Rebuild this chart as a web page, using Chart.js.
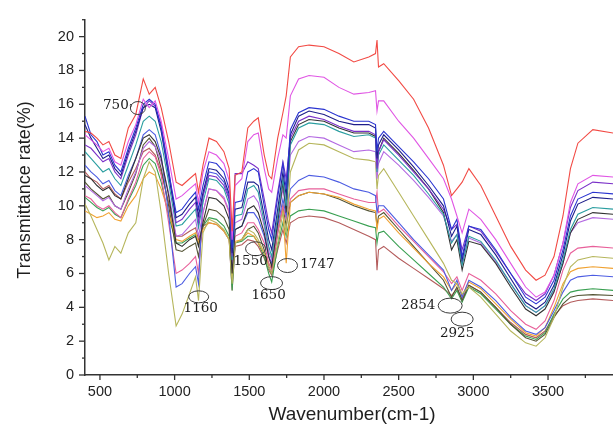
<!DOCTYPE html>
<html><head><meta charset="utf-8">
<script src="https://cdn.jsdelivr.net/npm/chart.js@4.4.0/dist/chart.umd.min.js"></script>
<style>html,body{margin:0;padding:0;background:#fff}#wrap{width:613px;height:425px;position:relative}</style>
</head><body><div id="wrap"><canvas id="c" width="613" height="425"></canvas></div>
<script>
const wavenumbers = [400,440,480,520,560,600,640,690,740,790,830,870,910,960,1010,1050,1100,1140,1160,1190,1230,1280,1330,1365,1385,1405,1450,1490,1530,1560,1600,1630,1650,1690,1725,1747,1775,1830,1900,2000,2100,2200,2300,2345,2355,2365,2400,2500,2600,2700,2800,2854,2890,2925,2970,3050,3150,3250,3350,3420,3480,3540,3600,3650,3700,3800,3940];

const red = [14.4,14.3,14.0,13.6,13.8,13.0,12.8,14.6,15.4,17.5,
16.6,17.0,15.8,13.8,11.4,11.2,11.6,11.9,10.8,12.4,
14.0,13.8,13.2,12.2,8.5,11.8,12.0,14.6,15.0,15.2,
13.0,11.8,11.6,14.0,15.5,16.5,18.8,19.4,19.5,19.4,
19.0,18.5,18.8,19.0,19.8,18.2,18.4,17.4,16.3,14.6,
12.4,10.6,11.0,11.4,12.2,11.2,9.4,7.6,6.2,5.6,
5.9,7.0,9.4,12.2,13.7,14.5,14.3];
const magenta = [14.2,13.9,13.6,13.2,13.4,12.6,12.4,13.8,14.8,16.3,
15.8,16.2,15.0,12.8,10.4,10.6,11.0,11.3,10.2,12.0,
13.2,13.0,12.5,11.5,8.0,11.2,11.6,13.8,14.2,14.3,
12.2,11.0,10.8,12.8,14.2,14.0,16.5,17.5,17.7,17.6,
17.0,16.6,16.7,16.8,15.6,16.2,16.2,15.0,14.0,12.8,
11.6,10.4,9.4,8.4,9.8,9.2,8.0,6.6,5.2,4.6,
4.9,5.9,7.8,10.2,11.3,11.8,11.7];
const blue = [15.3,14.2,13.8,13.0,13.2,12.4,12.0,13.4,14.6,16.0,
16.3,16.0,14.6,12.0,9.6,9.8,10.4,10.8,9.8,11.2,
12.6,12.5,12.0,11.0,7.5,10.2,10.3,12.0,12.2,12.0,
10.0,8.6,8.0,10.5,12.5,11.0,14.5,15.5,15.8,15.7,
15.3,15.0,15.0,14.8,13.2,14.0,14.4,13.5,12.6,11.6,
10.4,8.6,9.2,7.0,8.8,8.6,7.4,6.0,4.6,4.2,
4.6,5.6,7.4,9.4,10.4,10.8,10.7];
const navy = [14.8,14.0,13.4,12.8,13.0,12.2,11.8,13.2,14.4,15.8,
16.0,15.8,14.4,11.8,9.3,9.5,10.1,10.5,9.4,10.8,
12.2,12.1,11.6,10.7,7.2,9.8,9.9,11.4,11.4,11.2,
9.4,8.0,7.4,9.8,12.0,10.6,14.2,15.3,15.6,15.4,
15.0,14.8,14.8,14.6,12.8,13.6,14.2,13.3,12.3,11.2,
10.0,8.2,8.8,6.8,8.6,8.3,7.1,5.7,4.3,3.9,
4.3,5.3,7.1,9.1,10.1,10.5,10.4];
const violet = [13.6,13.4,13.0,12.6,12.8,12.0,11.6,13.0,14.2,15.8,
16.2,15.9,14.8,12.2,9.0,9.2,9.8,10.2,9.0,10.6,
11.8,11.7,11.2,10.4,7.0,11.9,11.9,12.6,12.4,12.2,
10.4,9.0,8.4,10.8,12.6,11.6,14.0,15.0,15.3,15.1,
14.7,14.4,14.4,14.2,12.2,13.2,13.9,13.0,12.0,11.0,
9.8,8.6,8.9,7.4,8.8,8.5,7.3,6.0,4.8,4.4,
4.8,5.9,7.8,9.9,10.9,11.4,11.3];
const teal = [13.2,12.8,12.4,12.0,12.2,11.6,11.2,12.4,13.6,15.0,
15.3,15.0,13.8,11.4,8.8,8.9,9.4,9.8,8.7,10.2,
11.6,11.5,11.0,10.1,6.8,9.4,9.5,11.0,11.2,10.8,
9.0,7.6,7.0,9.4,11.6,10.0,13.6,14.6,14.9,14.8,
14.4,14.1,14.2,14.0,12.0,13.0,13.6,12.7,11.8,10.7,
9.5,7.8,8.3,6.5,8.2,7.9,6.8,5.4,4.1,3.7,
4.1,5.1,6.8,8.6,9.5,9.9,9.8];
const black = [11.8,11.6,11.2,10.9,11.1,10.6,10.4,11.6,12.8,14.0,
14.2,13.8,12.8,10.6,7.8,7.6,8.0,8.2,7.6,9.0,
10.5,10.4,10.0,9.2,6.0,8.6,8.8,9.8,10.0,9.6,
8.4,7.0,6.4,9.0,11.4,9.6,13.8,14.8,15.1,15.0,
14.6,14.3,14.3,14.1,12.4,13.2,14.0,13.1,12.1,11.0,
9.6,7.4,8.0,6.2,7.9,7.7,6.6,5.2,3.9,3.5,
3.9,4.9,6.6,8.4,9.2,9.6,9.5];
const lightPurple = [11.2,10.9,10.6,10.3,10.5,10.0,9.8,11.0,12.0,13.4,
13.8,13.5,12.6,10.8,8.2,8.3,8.8,9.2,8.2,9.6,
11.0,10.9,10.5,9.7,6.4,9.0,9.2,10.4,10.6,10.2,
8.8,7.3,6.8,9.2,11.0,9.8,13.0,13.8,14.1,14.0,
13.6,13.2,13.3,13.2,11.6,12.5,13.2,12.4,11.5,10.5,
9.4,7.9,8.3,6.6,8.1,7.8,6.7,5.4,4.1,3.7,
4.1,5.0,6.6,8.4,9.0,9.3,9.2];
const olive = [10.1,9.4,8.6,7.8,6.8,7.6,7.2,8.4,9.0,11.6,
12.6,12.0,9.6,6.0,2.9,3.6,4.8,5.8,4.4,8.4,
9.2,9.0,8.6,8.0,5.4,7.8,8.0,8.6,8.4,8.0,
7.2,6.4,6.0,7.8,9.6,8.4,12.0,13.3,13.7,13.6,
13.2,12.8,12.7,12.6,11.0,11.8,12.2,10.8,9.4,8.0,
6.6,5.6,5.4,4.8,5.2,4.6,3.6,2.6,1.9,1.7,
2.2,3.4,5.2,6.4,6.8,7.0,6.9];
const blue2 = [12.4,12.0,11.7,11.3,11.5,10.9,10.6,11.8,12.8,14.2,
14.5,14.2,13.0,9.5,5.2,5.4,6.0,6.4,5.4,10.6,
12.0,11.9,11.4,10.5,6.6,8.6,8.8,9.6,9.6,9.2,
8.2,7.0,6.6,8.8,10.4,9.4,11.0,11.5,11.8,11.7,
11.4,11.0,10.8,10.6,9.6,10.0,10.0,9.0,8.0,7.1,
6.2,5.0,5.6,4.6,5.6,5.2,4.4,3.4,2.6,2.4,
2.8,3.8,4.9,5.6,5.8,5.9,5.8];
const pink = [10.6,10.4,10.0,9.8,10.0,9.6,9.3,10.4,11.4,12.8,
13.2,12.9,11.8,9.0,6.0,6.2,6.6,7.0,6.0,9.6,
11.0,10.9,10.4,9.6,6.2,8.2,8.4,9.0,9.0,8.6,
7.8,6.6,6.2,8.4,10.0,9.2,10.4,10.9,11.0,11.0,
10.7,10.4,10.2,10.2,10.8,9.6,9.8,8.8,7.9,7.0,
6.1,5.4,5.8,5.0,6.0,5.6,4.8,3.8,3.0,2.7,
3.2,4.4,6.2,7.2,7.5,7.6,7.5];
const orange = [9.7,9.5,9.3,9.4,9.6,9.2,9.1,10.0,10.6,11.6,
12.0,11.8,11.0,9.6,8.0,7.9,8.2,8.4,7.8,8.6,
9.0,8.9,8.5,8.0,5.8,7.9,8.0,8.4,8.2,7.8,
7.2,6.6,6.3,8.6,9.8,6.6,10.2,10.6,10.8,10.7,
10.5,10.1,9.8,9.7,8.6,9.2,9.4,8.4,7.5,6.6,
5.8,5.0,5.4,4.7,5.5,5.1,4.2,3.3,2.5,2.3,
2.8,4.0,5.4,6.1,6.3,6.4,6.3];
const darkOlive = [11.4,11.0,10.7,10.4,10.6,10.0,9.8,10.8,11.9,13.6,
14.0,13.5,12.2,10.0,7.4,7.3,7.6,7.8,7.0,8.8,
9.8,9.7,9.3,8.6,5.6,7.8,8.0,8.6,8.8,8.4,
7.4,6.4,6.0,8.4,10.0,8.8,10.2,10.6,10.8,10.7,
10.4,10.0,9.7,9.6,8.8,9.4,9.6,8.6,7.6,6.6,
5.6,4.6,5.2,4.4,5.3,4.9,4.0,3.0,2.2,2.0,
2.4,3.4,4.2,4.6,4.7,4.75,4.7];
const green = [10.5,10.2,9.9,9.7,9.9,9.5,9.3,10.3,11.2,12.4,
12.8,12.5,11.4,9.4,7.8,7.8,8.1,8.3,7.7,8.8,
9.3,9.2,8.8,8.2,5.0,7.8,7.9,8.2,8.2,7.8,
7.0,6.0,5.5,7.6,9.0,8.2,9.4,9.7,9.8,9.7,
9.4,9.1,8.8,8.7,7.8,8.4,8.5,7.6,6.8,6.0,
5.2,4.5,5.0,4.3,5.2,4.8,3.9,3.0,2.3,2.1,
2.5,3.6,4.5,4.9,5.0,5.1,5.0];
const brown = [12.0,11.6,11.4,11.0,11.2,10.7,10.4,11.4,12.2,13.2,
13.4,13.0,12.0,10.2,8.2,8.2,8.5,8.7,8.0,8.8,
9.0,8.9,8.5,8.0,5.0,7.6,7.7,8.0,7.9,7.6,
6.9,6.2,5.9,7.4,8.6,7.8,9.0,9.3,9.4,9.3,
9.0,8.6,8.2,8.0,6.2,7.4,7.6,6.9,6.3,5.7,
5.1,4.7,5.1,4.5,5.3,4.9,4.0,3.1,2.4,2.2,
2.6,3.5,4.1,4.3,4.4,4.5,4.4];

const xTickValues = [500,1000,1500,2000,2500,3000,3500];
const yTickValues = [0,2,4,6,8,10,12,14,16,18,20];

const annotations = [
  {label:'750',  tx:607,  ty:15.95, ex:754,  ey:15.78, rx:7.5, ry:6.5, connect:true},
  {label:'1160', tx:1175, ty:3.93,  ex:1161, ey:4.62,  rx:10,  ry:6},
  {label:'1550', tx:1509, ty:6.7,   ex:1542, ey:7.46,  rx:10,  ry:7},
  {label:'1650', tx:1629, ty:4.68,  ex:1649, ey:5.43,  rx:11,  ry:6.5},
  {label:'1747', tx:1956, ty:6.53,  ex:1756, ey:6.47,  rx:10,  ry:7},
  {label:'2854', tx:2631, ty:4.1,   ex:2845, ey:4.1,   rx:12,  ry:7.5},
  {label:'2925', tx:2891, ty:2.43,  ex:2925, ey:3.3,   rx:11,  ry:7}
];

const seriesList = [
  {name:'S1', data:red, color:'#f24a44'},
  {name:'S2', data:magenta, color:'#e056e4'},
  {name:'S3', data:blue, color:'#2a34d0'},
  {name:'S4', data:navy, color:'#1e1e8a'},
  {name:'S5', data:violet, color:'#7a30c8'},
  {name:'S6', data:teal, color:'#2a9ea0'},
  {name:'S7', data:black, color:'#333333'},
  {name:'S8', data:lightPurple, color:'#b46ae2'},
  {name:'S9', data:olive, color:'#b6b65c'},
  {name:'S10', data:blue2, color:'#4c5ce2'},
  {name:'S11', data:pink, color:'#e8609a'},
  {name:'S12', data:orange, color:'#f0a232'},
  {name:'S13', data:darkOlive, color:'#545434'},
  {name:'S14', data:green, color:'#3aa052'},
  {name:'S15', data:brown, color:'#b45c5c'}
];

const datasets = seriesList.map(s => ({
  label: s.name,
  data: wavenumbers.map((w, i) => ({x: w, y: s.data[i]})),
  borderColor: s.color,
  borderWidth: 1.1,
  pointRadius: 0,
  tension: 0,
  fill: false
}));

const decor = {
  id: 'decor',
  afterDraw(chart) {
    const ctx = chart.ctx, xs = chart.scales.x, ys = chart.scales.y;
    const a = chart.chartArea;
    ctx.save();
    ctx.strokeStyle = '#333';
    ctx.lineWidth = 1.3;
    for (let v = 500; v <= 3935; v += 250) {
      const px = xs.getPixelForValue(v);
      const len = (v % 500 === 0) ? 5 : 3;
      ctx.beginPath(); ctx.moveTo(px, a.bottom); ctx.lineTo(px, a.bottom + len); ctx.stroke();
    }
    for (let v = 0; v <= 21; v += 1) {
      const py = ys.getPixelForValue(v);
      const len = (v % 2 === 0) ? 6 : 3;
      ctx.beginPath(); ctx.moveTo(a.left, py); ctx.lineTo(a.left - len, py); ctx.stroke();
    }
    ctx.fillStyle = '#1e1e1e';
    ctx.font = '19px "Liberation Sans", Arial, sans-serif';
    ctx.textAlign = 'center'; ctx.textBaseline = 'middle';
    ctx.fillText('Wavenumber(cm-1)', 352, 415);
    ctx.save();
    ctx.translate(25, 190);
    ctx.rotate(-Math.PI / 2);
    ctx.font = '18px "Liberation Sans", Arial, sans-serif';
    ctx.fillText('Transmittance rate(%)', 0, 0);
    ctx.restore();
    ctx.font = '13.5px "DejaVu Serif", serif';
    ctx.fillStyle = '#1a1a1a';
    ctx.lineWidth = 1;
    ctx.strokeStyle = '#3a3a3a';
    annotations.forEach(an => {
      const tx = xs.getPixelForValue(an.tx), ty = ys.getPixelForValue(an.ty);
      const ex = xs.getPixelForValue(an.ex), ey = ys.getPixelForValue(an.ey);
      ctx.fillText(an.label, tx, ty);
      ctx.beginPath(); ctx.ellipse(ex, ey, an.rx, an.ry, 0, 0, Math.PI * 2); ctx.stroke();
      if (an.connect) {
        const w = ctx.measureText(an.label).width;
        ctx.beginPath();
        ctx.moveTo(tx + w / 2 + 1, ty);
        ctx.quadraticCurveTo(tx + w / 2 + 4, ty - 3, ex - an.rx, ey);
        ctx.stroke();
      }
    });
    ctx.restore();
  }
};

new Chart(document.getElementById('c'), {
  type: 'line',
  data: { datasets },
  options: {
    responsive: false,
    animation: false,
    devicePixelRatio: 1,
    layout: { padding: { top: 12, right: 0, left: 0, bottom: 0 } },
    plugins: { legend: { display: false }, tooltip: { enabled: false } },
    scales: {
      x: {
        type: 'linear', min: 400, max: 3935,
        afterFit: s => { s.height = 50; },
        afterBuildTicks: s => { s.ticks = xTickValues.map(v => ({value: v})); },
        ticks: { stepSize: 500, includeBounds: false, padding: 8, color: '#222', maxRotation: 0, autoSkip: false,
                 callback: v => String(v),
                 font: { size: 14.5, family: '"Liberation Sans", Arial, sans-serif' } },
        grid: { display: true, drawOnChartArea: false, drawTicks: false },
        border: { display: true, color: '#333', width: 1.5 }
      },
      y: {
        min: 0, max: 21,
        afterFit: s => { s.width = 85; },
        afterBuildTicks: s => { s.ticks = yTickValues.map(v => ({value: v})); },
        ticks: { stepSize: 2, includeBounds: false, padding: 11, color: '#222', autoSkip: false,
                 callback: v => String(v),
                 font: { size: 14.5, family: '"Liberation Sans", Arial, sans-serif' } },
        grid: { display: true, drawOnChartArea: false, drawTicks: false },
        border: { display: true, color: '#333', width: 1.5 }
      }
    }
  },
  plugins: [decor]
});
</script></body></html>
